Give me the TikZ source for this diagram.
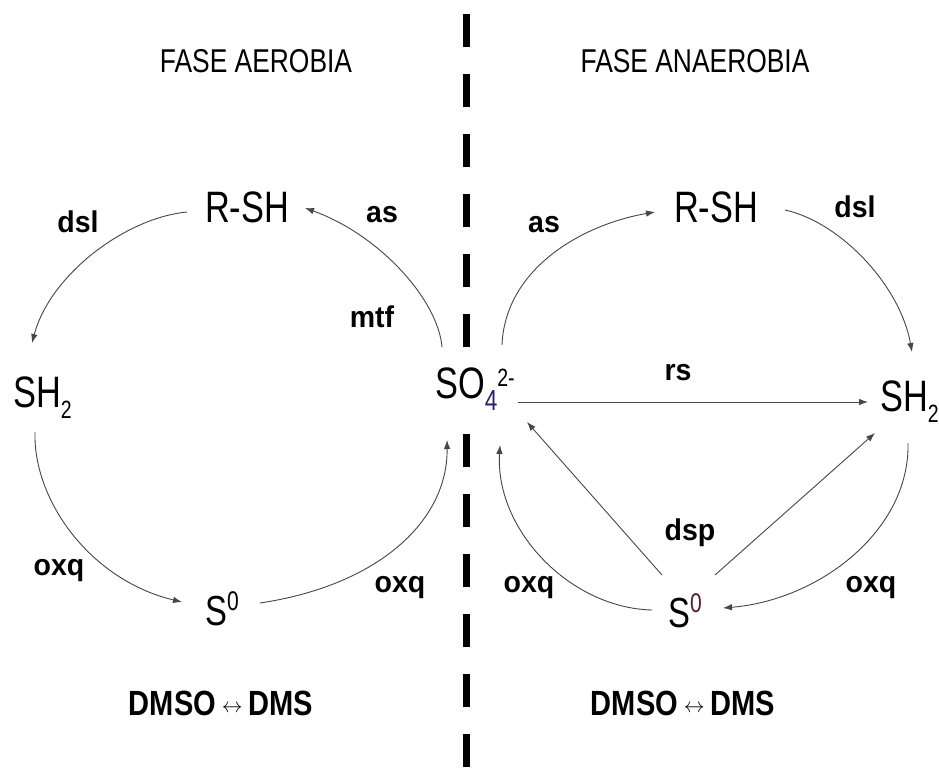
\documentclass[tikz,border=0pt]{standalone}
\usepackage{fontspec}
\setmainfont{Liberation Sans}
\newfontfamily\chemf{Liberation Sans}[FakeStretch=0.78]
\newfontfamily\lblf{Liberation Sans Bold}[FakeStretch=0.95]
\newfontfamily\dmsf{Liberation Sans Bold}[FakeStretch=0.83]
\newfontfamily\titlef{Liberation Sans}[FakeStretch=0.8]
\usetikzlibrary{arrows.meta}
\definecolor{linegray}{RGB}{70,70,70}
\definecolor{fourblue}{RGB}{45,30,110}
\definecolor{zerored}{RGB}{90,30,45}
\tikzset{
  chem/.style={font=\chemf\fontsize{44}{48}\selectfont, inner sep=0pt},
  szero/.style={font=\chemf\fontsize{42}{46}\selectfont, inner sep=0pt},
  lbl/.style={font=\lblf\fontsize{30}{32}\selectfont, inner sep=0pt, anchor=base},
  dms/.style={font=\dmsf\fontsize{35}{38}\selectfont, inner sep=0pt, anchor=base},
  ttl/.style={font=\titlef\fontsize{33}{36}\selectfont, inner sep=0pt, anchor=base},
  arr/.style={draw=linegray, line width=0.9pt, -{Latex[length=9pt,width=6.5pt]}},
  divider/.style={line width=7pt, dash pattern=on 33pt off 27pt}
}
\newcommand{\subtwo}{\raisebox{-11pt}{\fontsize{25}{25}\selectfont 2}}
\begin{document}
\begin{tikzpicture}[x=1pt,y=-1pt]
\fill[white] (0,0) rectangle (939,771);
\useasboundingbox (0,0) rectangle (939,771);

% divider
\coordinate (dtop) at (466,14);
\coordinate (dbot) at (466,800);
\draw[divider] (dtop) -- (dbot);

% titles
\node[ttl] (t1) at (256,72) {FASE AEROBIA};
\node[ttl] (t2) at (695,72) {FASE ANAEROBIA};

% chemical nodes
\node[chem, anchor=base] (rsh1) at (247,222) {R-SH};
\node[chem, anchor=base] (rsh2) at (716,222) {R-SH};
\node[chem, anchor=base west] (sh1) at (13,407) {SH\subtwo};
\node[chem, anchor=base west] (sh2) at (880,411) {SH\subtwo};
\node[chem, anchor=base west, fill=white] (so4) at (435,398)
  {SO\raisebox{-12pt}{\fontsize{29}{29}\selectfont\color{fourblue}4}\raisebox{12pt}{\fontsize{25}{25}\selectfont 2-}};
\node[szero, anchor=base west] (s01) at (205,625) {S\raisebox{15pt}{\fontsize{27}{27}\selectfont 0}};
\node[szero, anchor=base west] (s02) at (668,627) {S\raisebox{15pt}{\fontsize{27}{27}\selectfont\color{zerored}0}};

% labels
\node[lbl] (l1) at (78,232) {dsl};
\node[lbl] (l2) at (382,222) {as};
\node[lbl] (l3) at (372,327) {mtf};
\node[lbl] (l4) at (59,575) {oxq};
\node[lbl] (l5) at (400,592) {oxq};
\node[lbl] (r1) at (544,232) {as};
\node[lbl] (r2) at (855,217) {dsl};
\node[lbl] (r3) at (678,380) {rs};
\node[lbl] (r4) at (690,540) {dsp};
\node[lbl] (r5) at (529,592) {oxq};
\node[lbl] (r6) at (871,592) {oxq};

\node[dms] (d1) at (221,715) {DMSO\,\raisebox{3pt}{\fontsize{20}{20}\selectfont$\leftrightarrow$}\,DMS};
\node[dms] (d2) at (683,715) {DMSO\,\raisebox{3pt}{\fontsize{20}{20}\selectfont$\leftrightarrow$}\,DMS};

% aerobic cycle
\draw[arr] ([shift={(-60,-10)}]rsh1.base) .. controls (125,218) and (50,275) .. ([shift={(19,-64)}]sh1.base west);
\draw[arr] ([shift={(7,-51)}]so4.base west) .. controls (438,300) and (380,235) .. ([shift={(58,-14)}]rsh1.base);
\draw[arr] ([shift={(22,25)}]sh1.base west) .. controls (33,500) and (90,580) .. ([shift={(-23,-23)}]s01.base west);
\draw[arr] ([shift={(55,-22)}]s01.base west) .. controls (380,585) and (448,520) .. ([shift={(12,42)}]so4.base west);

% anaerobic cycle
\draw[arr] ([shift={(67,-53)}]so4.base west) .. controls (505,270) and (580,225) .. ([shift={(-61,-10)}]rsh2.base);
\draw[arr] ([shift={(69,-12)}]rsh2.base) .. controls (840,222) and (900,285) .. ([shift={(32,-59)}]sh2.base west);
\draw[arr] ([shift={(83,4)}]so4.base west) -- ([shift={(-12,-9)}]sh2.base west);
\draw[arr] ([shift={(-6,-52)}]s02.base west) -- ([shift={(92,24)}]so4.base west);
\draw[arr] ([shift={(47,-52)}]s02.base west) -- ([shift={(-5,22)}]sh2.base west);
\draw[arr] ([shift={(-16,-17)}]s02.base west) .. controls (570,608) and (495,530) .. ([shift={(65,47)}]so4.base west);
\draw[arr] ([shift={(28,32)}]sh2.base west) .. controls (910,530) and (820,600) .. ([shift={(55,-19)}]s02.base west);
\end{tikzpicture}
\end{document}
